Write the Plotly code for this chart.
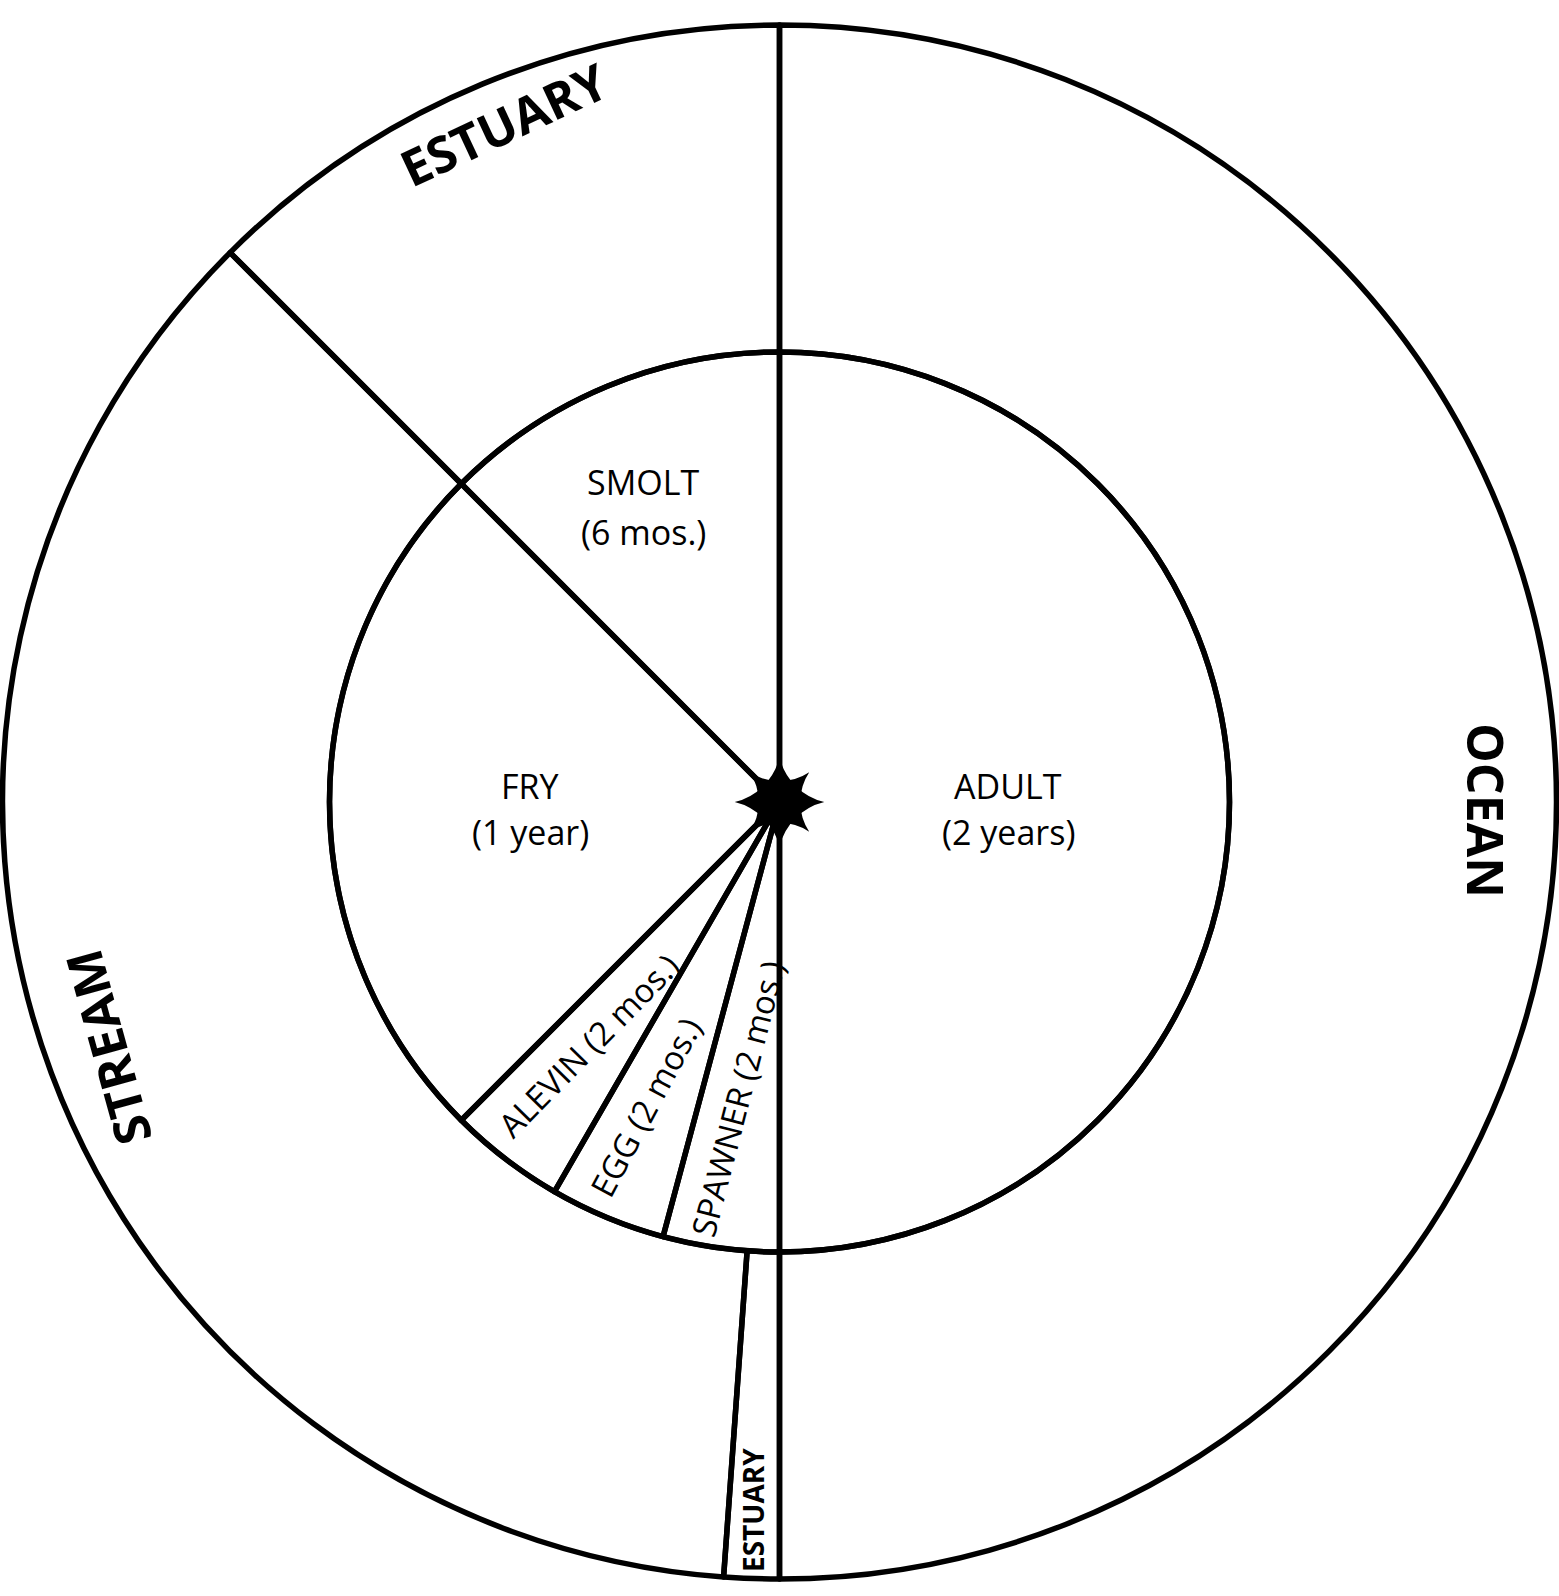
import plotly.graph_objects as go

# ---------------- data ----------------
# inner ring: life stages, clockwise from 12 o'clock (months)
stage_names = ["ADULT", "SPAWNER", "EGG", "ALEVIN", "FRY", "SMOLT"]
stage_months = [24, 2, 2, 2, 12, 6]
stage_text = ["ADULT<br>(2 years)", "SPAWNER (2 mos.)", "EGG (2 mos.)",
              "ALEVIN (2 mos.)", "FRY<br>(1 year)", "SMOLT<br>(6 mos.)"]

# outer ring: habitats, clockwise from 12 o'clock (months)
habitat_ids = ["OCEAN", "ESTUARY (return)", "STREAM", "ESTUARY (outbound)"]
habitat_months = [24, 0.55, 17.45, 6]
habitat_text = ["OCEAN", "ESTUARY", "STREAM", "ESTUARY"]

# ---------------- layout helpers ----------------
W, H = 1559, 1596
CX, CY = 779.5, 802.0          # pixel centre of both rings
R_OUT, R_IN = 777.0, 450.0     # pixel radii


def dom(r):
    return dict(x=[(CX - r) / W, (CX + r) / W],
                y=[1 - (CY + r) / H, 1 - (CY - r) / H])


line_style = dict(color="black", width=5.5)
clear = "rgba(0,0,0,0)"

fig = go.Figure()

# star at the centre (drawn below the transparent pies)
d_in = dom(R_IN)
fig.add_trace(go.Scatter(x=[0], y=[0], mode="markers", hoverinfo="skip",
                         marker=dict(symbol="star-diamond", size=64, color="black",
                                     line=dict(width=0)), showlegend=False))
fig.add_trace(go.Scatter(x=[0], y=[0], mode="markers", hoverinfo="skip",
                         marker=dict(symbol="star-square", size=54, color="black",
                                     line=dict(width=0)), showlegend=False))

# outer habitat ring
fig.add_trace(go.Pie(labels=habitat_ids, values=habitat_months, hole=R_IN / R_OUT,
                     sort=False, direction="clockwise", rotation=0,
                     domain=dom(R_OUT), textinfo="none", showlegend=False,
                     marker=dict(colors=[clear] * len(habitat_ids), line=line_style)))

# inner life-stage pie
fig.add_trace(go.Pie(labels=stage_names, values=stage_months,
                     sort=False, direction="clockwise", rotation=0,
                     domain=d_in, textinfo="none", showlegend=False,
                     marker=dict(colors=[clear] * len(stage_names), line=line_style)))

# ---------------- labels ----------------
REG = dict(family="Open Sans, Lato, sans-serif", size=34, color="black")
ROT = dict(family="Open Sans, Lato, sans-serif", size=33, color="black")
BOLD = dict(family="Open Sans, sans-serif", size=50, color="black", weight="bold")
SMALLBOLD = dict(family="Open Sans, sans-serif", size=28, color="black", weight="bold")

# (text, px, py, angle, font)
label_specs = [
    ("SMOLT", 643, 482, 0, REG), ("(6 mos.)", 643, 532, 0, REG),
    ("FRY", 530, 786, 0, REG), ("(1 year)", 530, 832, 0, REG),
    ("ADULT", 1008, 786, 0, REG), ("(2 years)", 1008, 832, 0, REG),
    (stage_text[3], 588, 1045, -45.5, ROT),
    (stage_text[2], 645, 1107, -62, ROT),
    (stage_text[1], 737, 1099, -75.5, ROT),
    (habitat_text[3], 504, 124, -25, BOLD),
    (habitat_text[0], 1486, 810, 90, BOLD),
    (habitat_text[2], 108, 1048, -105.5, BOLD),
    (habitat_text[1], 753, 1510, -90, SMALLBOLD),
]

for txt, px, py, ang, fnt in label_specs:
    fig.add_annotation(text=txt, x=px / W, y=1 - py / H, xref="paper", yref="paper",
                       showarrow=False, textangle=ang, font=fnt,
                       xanchor="center", yanchor="middle")

fig.update_layout(
    width=W, height=H, margin=dict(l=0, r=0, t=0, b=0, pad=0),
    paper_bgcolor="white", plot_bgcolor="white",
    xaxis=dict(domain=d_in["x"], range=[-1, 1], visible=False, fixedrange=True),
    yaxis=dict(domain=d_in["y"], range=[-1, 1], visible=False, fixedrange=True),
)

fig.write_html("out.html", config={"displayModeBar": False},
               post_script="document.body.style.margin='0';document.body.style.overflow='hidden';")
